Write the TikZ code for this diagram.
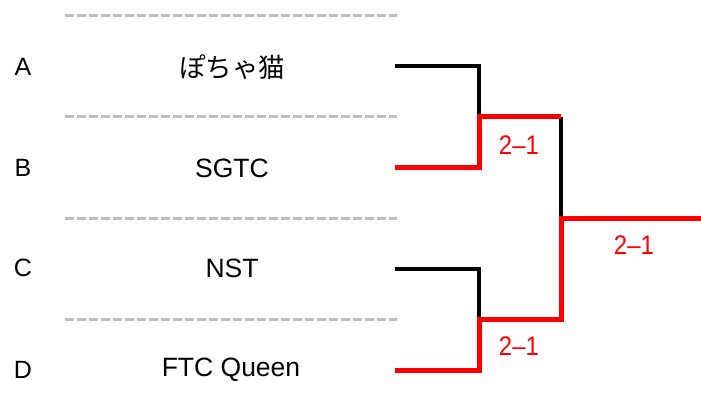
\documentclass[tikz,border=0pt]{standalone}
\usepackage{fontspec}
\setmainfont{Liberation Sans}
\newfontfamily\jpfont{Noto Sans CJK JP}
\begin{document}
\begin{tikzpicture}[x=1pt,y=-1pt,
  sep/.style={draw=black!25,line width=3pt,dash pattern=on 9pt off 3pt},
  seed/.style={font=\fontsize{25}{28}\selectfont,anchor=center},
  team/.style={font=\fontsize{26.5}{30}\selectfont,anchor=center},
  score/.style={font=\fontsize{24}{28}\selectfont,text=red,anchor=center,yscale=1.12},
  lose/.style={draw=black,line width=3.2pt},
  win/.style={draw=red,line width=5pt}]
\useasboundingbox (0,0) rectangle (701,417);
% separators
\coordinate (s1a) at (65,16);  \coordinate (s1b) at (397,16);
\coordinate (s2a) at (65,117); \coordinate (s2b) at (397,117);
\coordinate (s3a) at (65,218); \coordinate (s3b) at (397,218);
\coordinate (s4a) at (65,319); \coordinate (s4b) at (397,319);
\draw[sep] (s1a) -- (s1b);
\draw[sep] (s2a) -- (s2b);
\draw[sep] (s3a) -- (s3b);
\draw[sep] (s4a) -- (s4b);
% seeds
\node[seed] (la) at (23,67) {A};
\node[seed] (lb) at (23,168) {B};
\node[seed] (lc) at (23,268) {C};
\node[seed] (ld) at (23,370) {D};
% teams
\node[team] (ta) at (232,67) {\jpfont ぽちゃ猫};
\node[team] (tb) at (232,168) {SGTC};
\node[team] (tc) at (232,268) {NST};
\node[team] (td) at (231,370) {FTC Queen};
% bracket points
\coordinate (ea) at (395,66);
\coordinate (eb) at (395,167);
\coordinate (ec) at (395,269);
\coordinate (ed) at (395,370);
\coordinate (m1) at (479,117);
\coordinate (m2) at (479,319);
\coordinate (f) at (561,218);
\coordinate (out) at (701,218);
\draw[lose] (ea) -| (m1);
\draw[lose] (ec) -| (m2);
\draw[lose] (m1 -| f) -- (f);
\draw[win,line join=miter] (eb) -| (m1) -- (m1 -| f);
\draw[win,line join=miter] (ed) -| (m2) -| (f) -- (out);
% scores
\node[score] (sc1) at (519,145) {2–1};
\node[score] (sc2) at (519,346) {2–1};
\node[score] (sc3) at (634,245) {2–1};
\end{tikzpicture}
\end{document}
